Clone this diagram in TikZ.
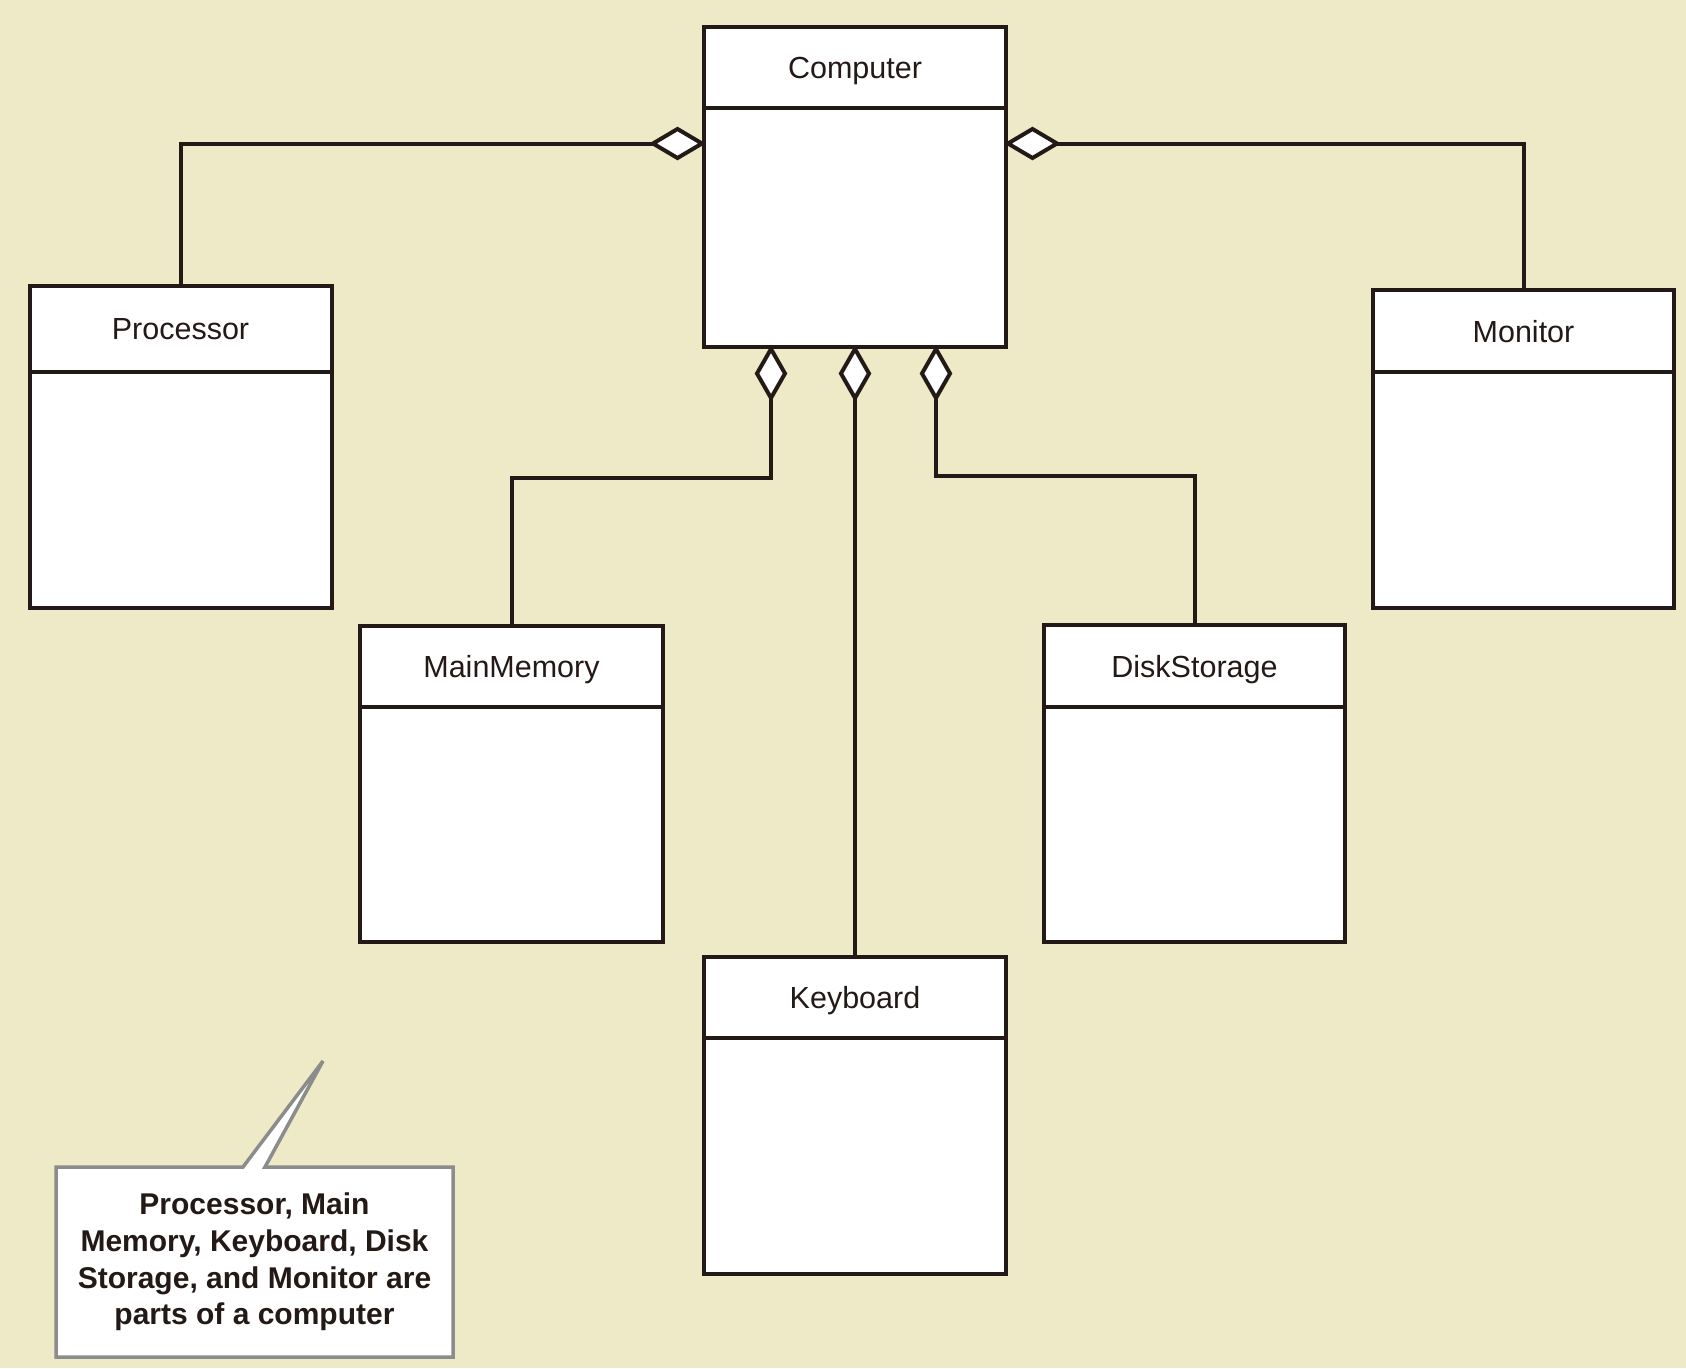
\documentclass[tikz,border=0pt]{standalone}
\usepackage{fontspec}
\setmainfont{Liberation Sans}
\usetikzlibrary{calc}
\definecolor{bgc}{HTML}{EEE9C7}
\definecolor{ink}{HTML}{231916}
\definecolor{notegray}{HTML}{8C8C8C}
\begin{document}
\begin{tikzpicture}[x=1pt,y=-1pt,
  hdr/.style={draw=ink, fill=white, line width=4pt, inner sep=0pt, outer sep=0pt,
    text=ink, text depth=0pt, font=\fontsize{30.5}{36}\selectfont, anchor=north west},
  classbody/.style={draw=ink, fill=white, line width=4pt, inner sep=0pt, outer sep=0pt, anchor=north},
  conn/.style={draw=ink, line width=4pt},
  aggtip/.style={draw=ink, fill=white, line width=4pt, line join=miter},
  notebox/.style={draw=notegray, fill=white, line width=3.5pt, line join=miter}
]
\fill[bgc] (0,0) rectangle (1686,1368);
\useasboundingbox (0,0) rectangle (1686,1368);

% Computer
\node[hdr, minimum width=302pt, minimum height=81pt] (compH) at (704,27) {Computer};
\node[classbody, minimum width=302pt, minimum height=239pt] (compB) at (compH.south) {};
% Processor
\node[hdr, minimum width=302pt, minimum height=86pt] (procH) at (29.5,286) {Processor};
\node[classbody, minimum width=302pt, minimum height=235.5pt] (procB) at (procH.south) {};
% Monitor
\node[hdr, minimum width=301pt, minimum height=82pt] (monH) at (1373,290) {Monitor};
\node[classbody, minimum width=301pt, minimum height=235.5pt] (monB) at (monH.south) {};
% MainMemory
\node[hdr, minimum width=303pt, minimum height=81pt] (memH) at (360,626) {MainMemory};
\node[classbody, minimum width=303pt, minimum height=235pt] (memB) at (memH.south) {};
% DiskStorage
\node[hdr, minimum width=301pt, minimum height=82pt] (diskH) at (1044,625) {DiskStorage};
\node[classbody, minimum width=301pt, minimum height=235pt] (diskB) at (diskH.south) {};
% Keyboard
\node[hdr, minimum width=302pt, minimum height=81pt] (keyH) at (704,957) {Keyboard};
\node[classbody, minimum width=302pt, minimum height=236pt] (keyB) at (keyH.south) {};

% attachment points on Computer
\coordinate (cL) at ([yshift=-35.5pt]compB.north west);
\coordinate (cR) at ([yshift=-35.5pt]compB.north east);
\coordinate (bM) at ([xshift=-84pt]compB.south);
\coordinate (bK) at (compB.south);
\coordinate (bD) at ([xshift=81pt]compB.south);

% aggregation connectors
\draw[conn] ([xshift=-51pt]cL) -| (procH.north);
\draw[conn] ([xshift=51pt]cR) -| (monH.north);
\draw[conn] ($(bM)+(0,51)$) -- ($(bM)+(0,131)$) -| (memH.north);
\draw[conn] ($(bK)+(0,51)$) -- (keyH.north);
\draw[conn] ($(bD)+(0,51)$) -- ($(bD)+(0,129)$) -| (diskH.north);

% open diamonds (aggregation)
\draw[aggtip] ([xshift=-2pt]cL) -- ++(-24.5,14.5) -- ++(-24.5,-14.5) -- ++(24.5,-14.5) -- cycle;
\draw[aggtip] ([xshift=2pt]cR) -- ++(24.5,14.5) -- ++(24.5,-14.5) -- ++(-24.5,-14.5) -- cycle;
\foreach \p in {bM,bK,bD}
  \draw[aggtip] ($(\p)+(0,2)$) -- ++(14,24.5) -- ++(-14,24.5) -- ++(-14,-24.5) -- cycle;

% note
\draw[notebox] (56,1167) -- (243,1167) -- (323,1061) -- (265,1167) -- (453,1167)
  -- (453,1357) -- (56,1357) -- cycle;
\node[align=center, text=ink, font=\bfseries\fontsize{30}{36.7}\selectfont, inner sep=0pt]
  (note) at (254.5,1262) {Processor, Main\\Memory, Keyboard, Disk\\Storage, and Monitor are\\parts of a computer};
\end{tikzpicture}
\end{document}
